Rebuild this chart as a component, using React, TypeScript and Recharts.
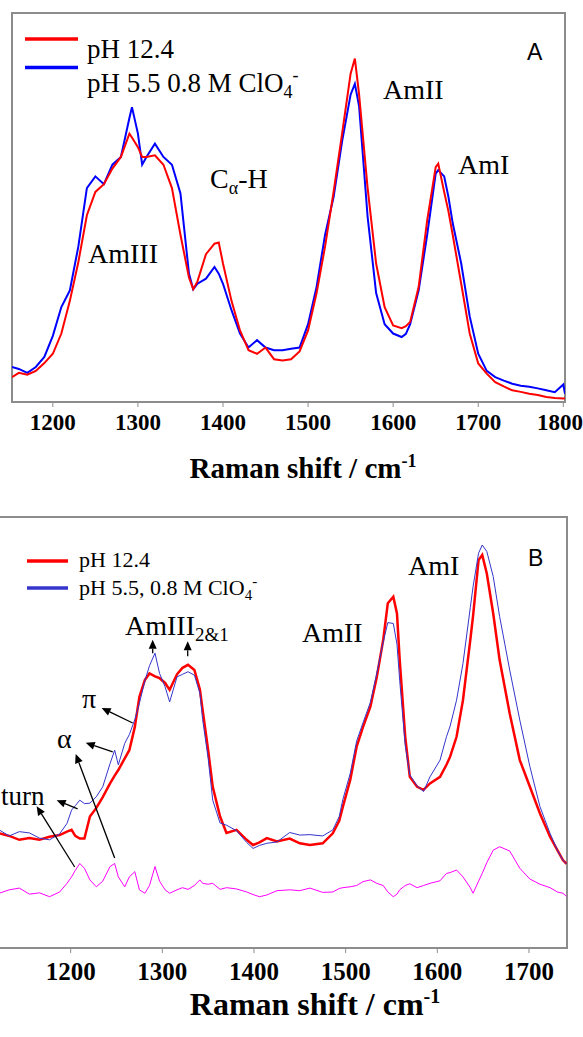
import { LineChart, Line, XAxis, YAxis, ReferenceArea, ReferenceLine } from 'recharts';

const SERIF = '"Liberation Serif", "Times New Roman", serif';
const SANS = '"Liberation Sans", Arial, sans-serif';
const FRAME = '#8c8c8c';

// Panel A — Raman shift (cm-1) and intensity in % of plot height
const shiftA = [1152, 1160, 1170, 1180, 1190, 1200, 1210, 1220, 1230, 1240, 1250, 1260, 1270, 1280, 1290, 1293, 1300, 1305, 1310, 1320, 1330, 1340, 1350, 1360, 1365, 1370, 1380, 1390, 1395, 1400, 1410, 1420, 1430, 1440, 1450, 1460, 1470, 1480, 1490, 1500, 1510, 1520, 1530, 1540, 1550, 1555, 1560, 1570, 1580, 1590, 1600, 1610, 1615, 1620, 1630, 1640, 1650, 1653, 1660, 1665, 1670, 1680, 1690, 1700, 1710, 1720, 1730, 1740, 1750, 1760, 1770, 1780, 1790, 1800, 1802];
const redA = [6.4, 7.5, 7, 8, 10, 12.4, 17.6, 26, 36, 48, 54, 56, 60, 63, 69, 68, 65.5, 63, 63, 63.4, 61, 55, 43, 32, 29, 31, 38, 40.7, 41, 35.6, 26, 18.4, 13.3, 12.4, 14, 11, 10.7, 11, 13, 18.4, 28, 40, 54, 69, 84.4, 88.3, 79, 55, 35.6, 24.4, 19.7, 19, 19.5, 20.6, 29.6, 46.7, 60.4, 61.3, 54, 49, 43, 30.4, 17.6, 9.9, 7.3, 5.1, 4, 3, 2.6, 2.1, 1.8, 1.3, 1, 0.9, 1];
const blueA = [9, 8.5, 7.5, 9, 11.6, 17, 24.4, 28.7, 40, 55, 58, 56, 61, 63, 73, 75.8, 69, 61, 63, 66.4, 63, 61, 53.6, 33, 29, 30.4, 31.7, 34.7, 33, 30.4, 23.6, 17.6, 14, 15.9, 14, 13.3, 13.3, 13.7, 14, 20, 29.6, 43, 52.7, 67, 79, 81.8, 76, 47.6, 28, 20, 17.6, 16.7, 17.5, 20, 28.7, 43, 58.7, 59.6, 58, 52.7, 46, 35.6, 22, 12.4, 8, 6.4, 5.5, 4.7, 4.2, 3.9, 3.5, 3, 2.5, 4.5, 2.1];
const ticksA = [1200, 1300, 1400, 1500, 1600, 1700, 1800];

// Panel B — spectra plus difference spectrum
const shiftB = [1122, 1133, 1144, 1155, 1166, 1177, 1188, 1196, 1201, 1205, 1210, 1215, 1221, 1228, 1235, 1243, 1248, 1252, 1259, 1264, 1270, 1275, 1281, 1286, 1292, 1297, 1303, 1308, 1316, 1322, 1328, 1335, 1341, 1344, 1350, 1355, 1363, 1370, 1381, 1392, 1399, 1406, 1414, 1425, 1439, 1450, 1461, 1475, 1486, 1493, 1497, 1505, 1512, 1519, 1527, 1534, 1541, 1546, 1552, 1556, 1559, 1565, 1570, 1578, 1585, 1592, 1603, 1610, 1614, 1621, 1628, 1636, 1639, 1645, 1649, 1654, 1661, 1668, 1679, 1690, 1701, 1712, 1723, 1731, 1737, 1741];
const redB = [26.6, 26, 25.1, 25.5, 25.1, 25.8, 26.2, 27, 27.4, 26, 25.4, 25.4, 30.5, 32.5, 35, 38.2, 40, 41.3, 44, 45.9, 51.3, 58.3, 62.2, 63.7, 63, 62.6, 61.5, 59.9, 63.5, 65, 65.7, 64.5, 60, 55.2, 45.9, 37.4, 30.5, 26.7, 27.4, 25.1, 23.9, 24.5, 25.5, 24.7, 25.4, 24.3, 23.9, 24.3, 26.6, 29.5, 32.8, 39, 46.7, 51.3, 56, 62.9, 71.5, 80, 81.5, 77.6, 66.8, 49, 39.7, 37.4, 36.7, 38.2, 39.7, 42.5, 44.4, 49, 57.5, 71.5, 77, 90, 91.2, 86.9, 77.6, 66.8, 54.4, 43.6, 37.4, 31.2, 25.8, 22.7, 20.4, 19.5];
const blueB = [27.4, 26, 27, 26.7, 25.5, 25.1, 26.5, 28.9, 32, 33, 34.3, 33.5, 33.6, 35.1, 37.4, 42.8, 45.9, 42.5, 47.5, 49.5, 53, 56.8, 62, 65.5, 68.4, 63.7, 60.6, 57.1, 62.9, 63.5, 64.1, 63.3, 59.1, 53, 44, 34.3, 29, 28.5, 27.2, 24.5, 23.1, 23.8, 24.3, 24.6, 26.8, 26.2, 26.3, 26, 27.4, 30.5, 34.5, 40.5, 48, 52.3, 57, 63.8, 71, 75.5, 75.3, 70.5, 62, 47, 40.2, 37.6, 36.3, 39.7, 43.6, 49, 51.5, 57.5, 66, 79, 83.8, 91.6, 93.5, 92, 86.2, 76.9, 64.5, 52.9, 42.1, 32.8, 26.6, 22.7, 20.4, 19.5];
const diffB = [12.7, 13.5, 13.9, 12.5, 12.8, 11.9, 13, 15, 16.5, 18, 19.6, 18.5, 15.8, 14.2, 15.5, 18.9, 19.6, 16.5, 14.2, 16.5, 17.7, 13.5, 12.7, 14.5, 18.9, 15.5, 13.5, 12.7, 13.5, 14, 13.6, 14.5, 15.8, 15, 14.8, 15, 13.6, 14, 13.7, 13, 12.4, 11.9, 12.3, 13.3, 13.5, 13.3, 13.9, 12.9, 13, 13.8, 14, 14.2, 14.5, 15.4, 15.8, 15, 14.5, 13, 11.9, 12.5, 13.5, 14.5, 14.9, 14, 14.5, 15, 15.6, 17.3, 17.5, 18.1, 16.5, 14, 12.7, 15.5, 17.3, 19.8, 22.7, 23.5, 22.5, 18.5, 16, 14.8, 14, 13, 12.7, 12];
const ticksB = [1200, 1300, 1400, 1500, 1600, 1700];

// annotation arrows of panel B, data units: [x tail, y tail, x head, y head]
const arrowsB = [
  [1267.7, 52.2, 1233.8, 55.7],
  [1245.9, 45.5, 1216.4, 47.6],
  [1248, 20.9, 1205.5, 45],
  [1207.6, 32.3, 1184.7, 34.3],
  [1204.4, 18.8, 1162.9, 32.9],
  [1289.5, 68.4, 1289.5, 71.5],
  [1327.7, 67.7, 1327.7, 71.2],
];

const dataA = shiftA.map((x, i) => ({ x, red: redA[i], blue: blueA[i] }));
const dataB = shiftB.map((x, i) => ({ x, red: redB[i], blue: blueB[i], diff: diffB[i] }));

function Arrow(props: any) {
  const { x1, y1, x2, y2 } = props;
  const a = Math.atan2(y2 - y1, x2 - x1);
  const L = 9, W = 4;
  const bx = x2 - L * Math.cos(a), by = y2 - L * Math.sin(a);
  const pts = `${x2},${y2} ${bx + W * Math.sin(a)},${by - W * Math.cos(a)} ${bx - W * Math.sin(a)},${by + W * Math.cos(a)}`;
  return (
    <g>
      <line x1={x1} y1={y1} x2={bx} y2={by} stroke="#000" strokeWidth={1.3} />
      <polygon points={pts} fill="#000" />
    </g>
  );
}

const tickStyle = (size: number) => ({ fontFamily: SERIF, fontWeight: 700, fontSize: size, fill: '#000' });

export default function App() {
  return (
    <div style={{ position: 'absolute', left: 0, top: 0, width: 583, height: 1037, overflow: 'hidden', background: '#fff' }}>
      <div style={{ position: 'absolute', left: 0, top: 0 }}>
        <LineChart width={583} height={442} data={dataA} margin={{ top: 13, right: 18, left: 12, bottom: 0 }}>
          <XAxis dataKey="x" type="number" domain={[1152, 1802]} ticks={ticksA} allowDataOverflow
            height={40} axisLine={false} tickLine={{ stroke: FRAME, strokeWidth: 1 }} tickSize={5} tickMargin={7}
            tick={tickStyle(23)} />
          <YAxis hide type="number" domain={[0, 100]} />
          <ReferenceArea x1={1152} x2={1802} y1={0} y2={100} fill="none" stroke={FRAME} strokeWidth={2} />
          <Line dataKey="blue" stroke="#0000ff" strokeWidth={2} dot={false} isAnimationActive={false} />
          <Line dataKey="red" stroke="#ff0000" strokeWidth={2} dot={false} isAnimationActive={false} />
        </LineChart>
      </div>

      <div style={{ position: 'absolute', left: -21, top: 500 }}>
        <LineChart width={604} height={490} data={dataB} margin={{ top: 17, right: 16, left: 0, bottom: 0 }}>
          <XAxis dataKey="x" type="number" domain={[1100, 1741.5]} ticks={ticksB} allowDataOverflow
            height={42} axisLine={false} tickLine={{ stroke: FRAME, strokeWidth: 1 }} tickSize={5} tickMargin={9}
            tick={tickStyle(25)} />
          <YAxis hide type="number" domain={[0, 100]} />
          <ReferenceArea x1={1100} x2={1741.5} y1={0} y2={100} fill="none" stroke={FRAME} strokeWidth={2} />
          <Line dataKey="diff" stroke="#ff00ff" strokeWidth={1} dot={false} isAnimationActive={false} />
          <Line dataKey="red" stroke="#ff0000" strokeWidth={2.5} dot={false} isAnimationActive={false} />
          <Line dataKey="blue" stroke="#3535cc" strokeWidth={1} dot={false} isAnimationActive={false} />
          {arrowsB.map((a, i) => (
            <ReferenceLine key={i} segment={[{ x: a[0], y: a[1] }, { x: a[2], y: a[3] }]} shape={Arrow} />
          ))}
        </LineChart>
      </div>

      <svg width={583} height={1037} style={{ position: 'absolute', left: 0, top: 0, pointerEvents: 'none' }}>
        <g fontFamily={SERIF} fill="#000">
          {/* panel A legend */}
          <line x1={25} x2={78} y1={39} y2={39} stroke="#ff0000" strokeWidth={3.5} />
          <line x1={25} x2={78} y1={67.5} y2={67.5} stroke="#0000ff" strokeWidth={3.5} />
          <text x={87} y={58} fontSize={27}>pH 12.4</text>
          <text x={87} y={92} fontSize={27}>
            pH 5.5 0.8 M ClO<tspan dy={6} fontSize={18}>4</tspan><tspan dy={-17} fontSize={18}>-</tspan>
          </text>
          <text x={383} y={99} fontSize={28}>AmII</text>
          <text x={458} y={174} fontSize={28}>AmI</text>
          <text x={210} y={188} fontSize={28}>C<tspan dy={6} fontSize={18}>α</tspan><tspan dy={-6}>-H</tspan></text>
          <text x={88} y={263} fontSize={28}>AmIII</text>
          <text x={303} y={478} fontSize={29} fontWeight={700} textAnchor="middle">
            Raman shift / cm<tspan dy={-11} fontSize={18}>-1</tspan>
          </text>

          {/* panel B legend */}
          <line x1={27} x2={68} y1={561} y2={561} stroke="#ff0000" strokeWidth={3.5} />
          <line x1={27} x2={68} y1={588} y2={588} stroke="#3535cc" strokeWidth={3.5} />
          <text x={79} y={567} fontSize={22}>pH 12.4</text>
          <text x={79} y={595} fontSize={22}>
            pH 5.5, 0.8 M ClO<tspan dy={5} fontSize={15}>4</tspan><tspan dy={-14} fontSize={15}>-</tspan>
          </text>
          <text x={408} y={575} fontSize={28}>AmI</text>
          <text x={302} y={642} fontSize={28}>AmII</text>
          <text x={125} y={635} fontSize={28}>AmIII<tspan dy={6} fontSize={19}>2&amp;1</tspan></text>
          <text x={82} y={708} fontSize={28}>π</text>
          <text x={57} y={748} fontSize={28}>α</text>
          <text x={1} y={805} fontSize={27}>turn</text>
          <text x={315} y={1015} fontSize={32} fontWeight={700} textAnchor="middle">
            Raman shift / cm<tspan dy={-12} fontSize={20}>-1</tspan>
          </text>
        </g>
        <g fontFamily={SANS} fill="#000" fontSize={23}>
          <text x={527} y={60}>A</text>
          <text x={528} y={566}>B</text>
        </g>
      </svg>
    </div>
  );
}
